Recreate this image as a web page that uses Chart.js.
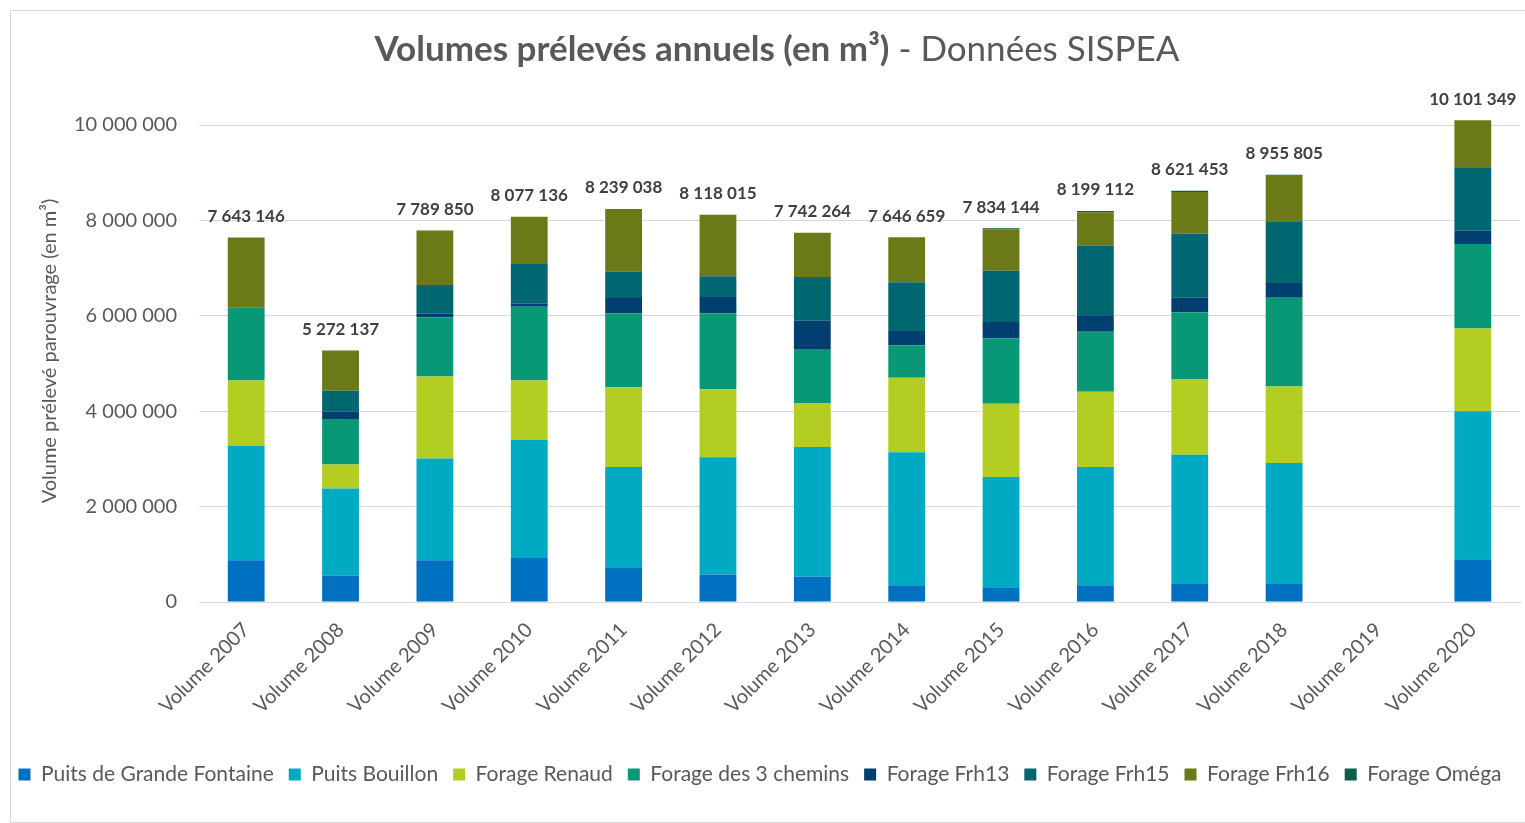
<!DOCTYPE html>
<html>
<head>
<meta charset="utf-8">
<script src="https://cdn.jsdelivr.net/npm/chart.js@4.4.0/dist/chart.umd.min.js"></script>
<style>
  body { margin: 0; background: #fff; }
  #frame { position: absolute; left: 10px; top: 10px; width: 1530px; height: 811px; border: 1px solid #d9d9d9; }
  #chart { position: absolute; left: 0; top: 0; }
</style>
</head>
<body>
<div id="frame"></div>
<canvas id="chart" width="1525" height="823"></canvas>
<script>
// Catégories (années)
var annees = ['Volume 2007', 'Volume 2008', 'Volume 2009', 'Volume 2010', 'Volume 2011', 'Volume 2012', 'Volume 2013',
  'Volume 2014', 'Volume 2015', 'Volume 2016', 'Volume 2017', 'Volume 2018', 'Volume 2019', 'Volume 2020'];

// Volumes par ouvrage (m³)
var puitsGrandeFontaine = [877000, 554000, 877000, 940000, 729000, 574000, 532000, 350000, 308000, 349000, 377000, 377000, null, 894000];
var puitsBouillon = [2400000, 1825000, 2134000, 2464000, 2101000, 2459000, 2718000, 2788000, 2312000, 2479000, 2710000, 2535000, null, 3107000];
var forageRenaud = [1369000, 505000, 1719000, 1242000, 1674000, 1429000, 911000, 1563000, 1534000, 1578000, 1578000, 1606000, null, 1732000];
var forage3Chemins = [1522000, 955000, 1242000, 1543000, 1549000, 1591000, 1128000, 679000, 1373000, 1257000, 1410000, 1858000, null, 1774000];
var forageFrh13 = [0, 154000, 70000, 71000, 322000, 343000, 609000, 301000, 343000, 350000, 301000, 314000, null, 279000];
var forageFrh15 = [0, 435000, 604000, 828000, 546000, 434000, 918000, 1023000, 1072000, 1459000, 1347000, 1292000, null, 1327000];
var forageFrh16 = [1475146, 844137, 1143850, 989136, 1318038, 1288015, 926264, 942659, 870000, 700000, 870000, 955000, null, 988349];
var forageOmega = [0, 0, 0, 0, 0, 0, 0, 0, 22144, 27112, 28453, 18805, null, 0];

// Totaux affichés au-dessus des barres
var totaux = ['7 643 146', '5 272 137', '7 789 850', '8 077 136', '8 239 038', '8 118 015', '7 742 264',
  '7 646 659', '7 834 144', '8 199 112', '8 621 453', '8 955 805', null, '10 101 349'];

var gris = '#595959';
var police = 'Lato, "Open Sans", sans-serif';

// Titre avec une partie en gras + titre de l'axe vertical
var titrePlugin = {
  id: 'titre',
  afterDraw: function (chart) {
    var ctx = chart.ctx;
    var partGras = 'Volumes prélevés annuels (en m³)';
    var partNormale = ' - Données SISPEA';
    ctx.save();
    ctx.fillStyle = gris;
    ctx.textBaseline = 'middle';
    ctx.font = 'bold 35px ' + police;
    var w1 = ctx.measureText(partGras).width;
    ctx.font = '35px ' + police;
    var w2 = ctx.measureText(partNormale).width;
    var x = 777 - (w1 + w2) / 2;
    ctx.font = 'bold 35px ' + police;
    ctx.textAlign = 'left';
    ctx.fillText(partGras, x, 50);
    ctx.font = '35px ' + police;
    ctx.fillText(partNormale, x + w1, 50);

    // titre de l'axe Y
    ctx.translate(50, 351);
    ctx.rotate(-Math.PI / 2);
    ctx.textAlign = 'center';
    ctx.font = '20px ' + police;
    ctx.fillText('Volume prélevé parouvrage (en m³)', 0, 0);
    ctx.restore();
  }
};

// Étiquettes des totaux
var totauxPlugin = {
  id: 'totaux',
  afterDatasetsDraw: function (chart) {
    var ctx = chart.ctx;
    var xScale = chart.scales.x;
    var yScale = chart.scales.y;
    ctx.save();
    ctx.font = 'bold 17px ' + police;
    ctx.fillStyle = '#404040';
    ctx.textAlign = 'center';
    ctx.textBaseline = 'middle';
    totaux.forEach(function (t, i) {
      if (!t) return;
      var somme = 0;
      chart.data.datasets.forEach(function (ds) { somme += ds.data[i] || 0; });
      ctx.fillText(t, xScale.getPixelForValue(i), yScale.getPixelForValue(somme) - 21);
    });
    ctx.restore();
  }
};

function serie(label, data, couleur) {
  return { label: label, data: data, backgroundColor: couleur, barPercentage: 0.39, categoryPercentage: 1, clip: false };
}

new Chart(document.getElementById('chart'), {
  type: 'bar',
  data: {
    labels: annees,
    datasets: [
      serie('Puits de Grande Fontaine', puitsGrandeFontaine, '#0070C0'),
      serie('Puits Bouillon', puitsBouillon, '#00AAC3'),
      serie('Forage Renaud', forageRenaud, '#B4CD22'),
      serie('Forage des 3 chemins', forage3Chemins, '#099876'),
      serie('Forage Frh13', forageFrh13, '#003F6F'),
      serie('Forage Frh15', forageFrh15, '#006670'),
      serie('Forage Frh16', forageFrh16, '#6B7916'),
      serie('Forage Oméga', forageOmega, '#0B5E47')
    ]
  },
  options: {
    responsive: false,
    animation: false,
    layout: { padding: { top: 125, left: 0, right: 5, bottom: 28 } },
    plugins: {
      legend: {
        position: 'bottom',
        labels: { color: gris, font: { family: police, size: 21 }, boxWidth: 12, boxHeight: 12, padding: 15 }
      },
      tooltip: { enabled: false }
    },
    scales: {
      x: {
        stacked: true,
        grid: { display: false },
        border: { color: '#d9d9d9' },
        ticks: { color: gris, font: { family: police, size: 20 }, minRotation: 45, maxRotation: 45, padding: 8 },
        afterFit: function (scale) { scale.height = 147; }
      },
      y: {
        stacked: true,
        min: 0,
        max: 10000000,
        border: { display: false },
        grid: { color: '#d9d9d9', drawTicks: false },
        ticks: {
          stepSize: 2000000,
          color: gris,
          padding: 22,
          font: { family: police, size: 20 },
          callback: function (v) { return v.toString().replace(/\B(?=(\d{3})+(?!\d))/g, ' '); }
        },
        afterFit: function (scale) { scale.width = 199; }
      }
    }
  },
  plugins: [titrePlugin, totauxPlugin]
});
</script>
</body>
</html>
